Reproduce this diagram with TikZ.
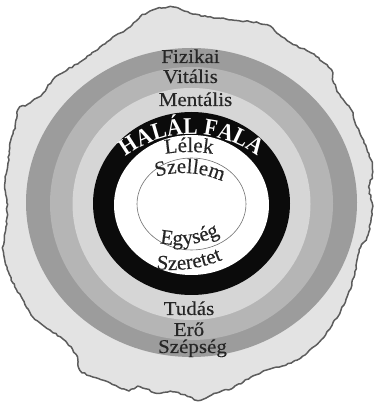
\documentclass[tikz,border=0pt]{standalone}
\usepackage{fontspec}
\setmainfont{Liberation Serif}
\newfontfamily\lfam[FakeBold=0.3]{Liberation Serif}
\newfontfamily\hfam[FakeStretch=0.9]{Liberation Serif}
\usetikzlibrary{decorations.text,decorations.pathmorphing}
\definecolor{blobfill}{HTML}{E3E3E3}
\definecolor{outline}{HTML}{5C5C5C}
\definecolor{bandA}{HTML}{9C9C9C}
\definecolor{bandB}{HTML}{B5B5B5}
\definecolor{bandC}{HTML}{D6D6D6}
\definecolor{wallc}{HTML}{0B0B0B}
\definecolor{thinc}{HTML}{707070}
\definecolor{labelgray}{HTML}{262626}
\newcommand\lblfont{\lfam\fontsize{21}{21}\selectfont}
\newcommand\hfont{\hfam\bfseries\fontsize{24}{24}\selectfont}
\newcommand\sq[1]{\scalebox{1}[0.93]{#1}}
\tikzset{
  lbl/.style={anchor=base, inner sep=0pt, text=labelgray, font=\lblfont},
  curvelbl/.style={decorate, decoration={text along path, text align=center, text color=labelgray, text={|\lblfont|#1}}},
  walllbl/.style={decorate, decoration={text along path, text align=center, text color=white, text={|\hfont|#1}}}
}
\begin{document}
\begin{tikzpicture}[x=1pt,y=1pt]
\useasboundingbox (0,0) rectangle (374,404);
\pgfmathsetseed{12}
\begin{scope}[shift={(0,404)},yscale=-1]
\filldraw[fill=blobfill, draw=outline, line width=1.5pt, line join=round,
  decorate, decoration={random steps,segment length=3pt,amplitude=0.8pt}]
  plot[smooth cycle, tension=0.55] coordinates {
  (18,110) (30,103) (43,93) (53,80) (67,70) (83,60) (100,47) (113,37) (130,27)
  (140,17) (153,10) (173,7) (190,13) (217,18) (251,22) (267,25) (277,33) (291,43)
  (311,53) (324,63) (331,70) (334,83) (341,97) (351,110) (357,127) (364,143)
  (371,160) (372,175) (369,187) (372,203) (371,220) (367,237) (361,247) (357,260)
  (354,277) (347,297) (341,310) (331,327) (321,340) (307,353) (291,363) (267,370)
  (251,377) (234,387) (217,393) (201,400) (190,397) (173,392) (157,393) (140,387)
  (127,390) (110,383) (93,377) (80,370) (77,357) (67,343) (50,330) (33,317)
  (23,300) (13,283) (7,267) (3,250) (5,233) (7,217) (7,200) (5,183) (8,163)
  (10,143) (15,127)};
\fill[bandA] (191.5,202.5) ellipse [x radius=165.5, y radius=154.5];
\fill[bandB] (191.5,203.5) ellipse [x radius=141.5, y radius=136.5];
\fill[bandC] (191.5,204) ellipse [x radius=119, y radius=116];
\fill[wallc] (191.5,203.5) ellipse [x radius=98.5, y radius=91.5];
\fill[white] (191.5,205) ellipse [x radius=77.5, y radius=70];
\draw[thinc, line width=0.6pt] (191.5,204) ellipse [x radius=54.5, y radius=46];
\end{scope}
% straight labels
\node[lbl] (fiz) at (190.5,341) {\sq{Fizikai}};
\node[lbl] (vit) at (190.5,321) {\sq{Vitális}};
\node[lbl] (men) at (195.5,298) {\sq{Mentális}};
\node[lbl] (tud) at (189,89) {\sq{Tudás}};
\node[lbl] (ero) at (189,68) {\sq{Erő}};
\node[lbl] (szep) at (192.5,51) {\sq{Szépség}};
% curved labels
\path[walllbl={HALÁL FALA}] (191.5,161) ++(134:108.5) arc[start angle=134, end angle=46, radius=108.5];
\path[curvelbl={Lélek}] (189,102) ++(110:150) arc[start angle=110, end angle=70, radius=150];
\path[curvelbl={Szellem}] (183,134) ++(126:97) arc[start angle=126, end angle=46, radius=97];
\path[curvelbl={Egység}] (178,249) ++(238:90) arc[start angle=238, end angle=318, radius=90];
\path[curvelbl={Szeretet}] (172,264) ++(250:130) arc[start angle=250, end angle=306, radius=130];
\end{tikzpicture}
\end{document}
